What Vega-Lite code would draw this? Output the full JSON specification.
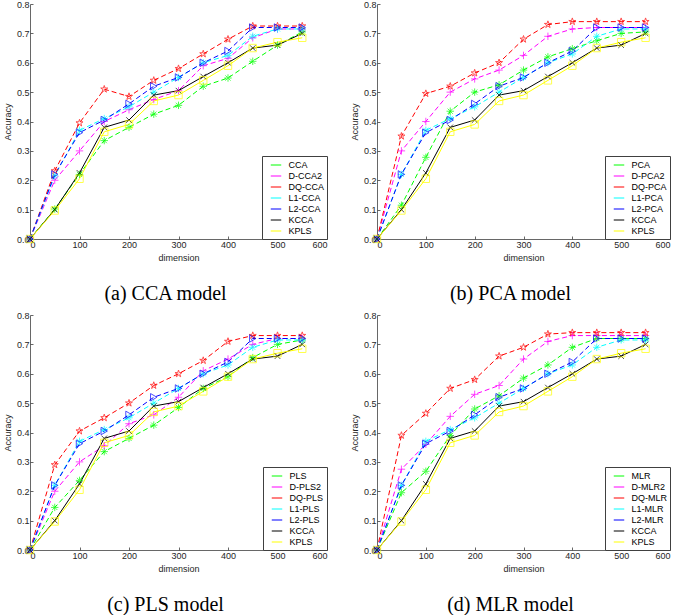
{
"$schema": "https://vega.github.io/schema/vega-lite/v6.json",
"padding": {"left": 3, "top": 0, "right": 0, "bottom": 0},
"config": {
  "font": "Liberation Sans",
  "view": {"stroke": null},
  "axis": {"domainColor": "#404040", "tickColor": "#404040", "labelColor": "#262626", "titleColor": "#262626", "labelFontSize": 9, "titleFontSize": 9, "titleFontWeight": "normal", "grid": false, "tickSize": -3, "labelPadding": 4, "domainWidth": 0.8, "tickWidth": 0.8},
  "legend": {"orient": "bottom-right", "offset": 0, "strokeColor": "#404040", "fillColor": "white", "padding": 3, "labelFontSize": 9, "symbolSize": 110, "symbolOffset": 5, "labelOffset": 6.5, "symbolStrokeWidth": 1, "rowPadding": 0, "labelColor": "black", "symbolType": "stroke"},
  "title": {"font": "Liberation Serif", "fontSize": 20, "fontWeight": "normal", "color": "black", "orient": "bottom", "anchor": "middle", "frame": "bounds", "offset": 22},
  "line": {"strokeWidth": 1},
  "point": {"filled": false, "strokeWidth": 1, "size": 55}
},
"datasets": {"rows": [
{"p":"a","m":"CCA","d":0,"a":0},{"p":"a","m":"CCA","d":50,"a":0.102},{"p":"a","m":"CCA","d":100,"a":0.22},{"p":"a","m":"CCA","d":150,"a":0.335},{"p":"a","m":"CCA","d":200,"a":0.38},{"p":"a","m":"CCA","d":250,"a":0.425},{"p":"a","m":"CCA","d":300,"a":0.455},{"p":"a","m":"CCA","d":350,"a":0.52},{"p":"a","m":"CCA","d":400,"a":0.548},{"p":"a","m":"CCA","d":450,"a":0.605},{"p":"a","m":"CCA","d":500,"a":0.66},{"p":"a","m":"CCA","d":550,"a":0.705},
{"p":"a","m":"D-CCA2","d":0,"a":0},{"p":"a","m":"D-CCA2","d":50,"a":0.2},{"p":"a","m":"D-CCA2","d":100,"a":0.3},{"p":"a","m":"D-CCA2","d":150,"a":0.4},{"p":"a","m":"D-CCA2","d":200,"a":0.44},{"p":"a","m":"D-CCA2","d":250,"a":0.475},{"p":"a","m":"D-CCA2","d":300,"a":0.505},{"p":"a","m":"D-CCA2","d":350,"a":0.59},{"p":"a","m":"D-CCA2","d":400,"a":0.615},{"p":"a","m":"D-CCA2","d":450,"a":0.685},{"p":"a","m":"D-CCA2","d":500,"a":0.715},{"p":"a","m":"D-CCA2","d":550,"a":0.715},
{"p":"a","m":"DQ-CCA","d":0,"a":0},{"p":"a","m":"DQ-CCA","d":50,"a":0.232},{"p":"a","m":"DQ-CCA","d":100,"a":0.395},{"p":"a","m":"DQ-CCA","d":150,"a":0.51},{"p":"a","m":"DQ-CCA","d":200,"a":0.485},{"p":"a","m":"DQ-CCA","d":250,"a":0.54},{"p":"a","m":"DQ-CCA","d":300,"a":0.58},{"p":"a","m":"DQ-CCA","d":350,"a":0.63},{"p":"a","m":"DQ-CCA","d":400,"a":0.68},{"p":"a","m":"DQ-CCA","d":450,"a":0.725},{"p":"a","m":"DQ-CCA","d":500,"a":0.725},{"p":"a","m":"DQ-CCA","d":550,"a":0.725},
{"p":"a","m":"L1-CCA","d":0,"a":0},{"p":"a","m":"L1-CCA","d":50,"a":0.215},{"p":"a","m":"L1-CCA","d":100,"a":0.37},{"p":"a","m":"L1-CCA","d":150,"a":0.41},{"p":"a","m":"L1-CCA","d":200,"a":0.45},{"p":"a","m":"L1-CCA","d":250,"a":0.5},{"p":"a","m":"L1-CCA","d":300,"a":0.55},{"p":"a","m":"L1-CCA","d":350,"a":0.6},{"p":"a","m":"L1-CCA","d":400,"a":0.625},{"p":"a","m":"L1-CCA","d":450,"a":0.69},{"p":"a","m":"L1-CCA","d":500,"a":0.715},{"p":"a","m":"L1-CCA","d":550,"a":0.715},
{"p":"a","m":"L2-CCA","d":0,"a":0},{"p":"a","m":"L2-CCA","d":50,"a":0.22},{"p":"a","m":"L2-CCA","d":100,"a":0.362},{"p":"a","m":"L2-CCA","d":150,"a":0.405},{"p":"a","m":"L2-CCA","d":200,"a":0.46},{"p":"a","m":"L2-CCA","d":250,"a":0.52},{"p":"a","m":"L2-CCA","d":300,"a":0.55},{"p":"a","m":"L2-CCA","d":350,"a":0.6},{"p":"a","m":"L2-CCA","d":400,"a":0.64},{"p":"a","m":"L2-CCA","d":450,"a":0.72},{"p":"a","m":"L2-CCA","d":500,"a":0.72},{"p":"a","m":"L2-CCA","d":550,"a":0.72},
{"p":"b","m":"PCA","d":0,"a":0},{"p":"b","m":"PCA","d":50,"a":0.115},{"p":"b","m":"PCA","d":100,"a":0.278},{"p":"b","m":"PCA","d":150,"a":0.435},{"p":"b","m":"PCA","d":200,"a":0.5},{"p":"b","m":"PCA","d":250,"a":0.525},{"p":"b","m":"PCA","d":300,"a":0.575},{"p":"b","m":"PCA","d":350,"a":0.62},{"p":"b","m":"PCA","d":400,"a":0.648},{"p":"b","m":"PCA","d":450,"a":0.675},{"p":"b","m":"PCA","d":500,"a":0.7},{"p":"b","m":"PCA","d":550,"a":0.705},
{"p":"b","m":"D-PCA2","d":0,"a":0},{"p":"b","m":"D-PCA2","d":50,"a":0.3},{"p":"b","m":"D-PCA2","d":100,"a":0.4},{"p":"b","m":"D-PCA2","d":150,"a":0.5},{"p":"b","m":"D-PCA2","d":200,"a":0.545},{"p":"b","m":"D-PCA2","d":250,"a":0.575},{"p":"b","m":"D-PCA2","d":300,"a":0.625},{"p":"b","m":"D-PCA2","d":350,"a":0.69},{"p":"b","m":"D-PCA2","d":400,"a":0.715},{"p":"b","m":"D-PCA2","d":450,"a":0.72},{"p":"b","m":"D-PCA2","d":500,"a":0.72},{"p":"b","m":"D-PCA2","d":550,"a":0.72},
{"p":"b","m":"DQ-PCA","d":0,"a":0},{"p":"b","m":"DQ-PCA","d":50,"a":0.35},{"p":"b","m":"DQ-PCA","d":100,"a":0.495},{"p":"b","m":"DQ-PCA","d":150,"a":0.52},{"p":"b","m":"DQ-PCA","d":200,"a":0.565},{"p":"b","m":"DQ-PCA","d":250,"a":0.6},{"p":"b","m":"DQ-PCA","d":300,"a":0.68},{"p":"b","m":"DQ-PCA","d":350,"a":0.73},{"p":"b","m":"DQ-PCA","d":400,"a":0.74},{"p":"b","m":"DQ-PCA","d":450,"a":0.74},{"p":"b","m":"DQ-PCA","d":500,"a":0.74},{"p":"b","m":"DQ-PCA","d":550,"a":0.74},
{"p":"b","m":"L1-PCA","d":0,"a":0},{"p":"b","m":"L1-PCA","d":50,"a":0.22},{"p":"b","m":"L1-PCA","d":100,"a":0.37},{"p":"b","m":"L1-PCA","d":150,"a":0.41},{"p":"b","m":"L1-PCA","d":200,"a":0.45},{"p":"b","m":"L1-PCA","d":250,"a":0.5},{"p":"b","m":"L1-PCA","d":300,"a":0.55},{"p":"b","m":"L1-PCA","d":350,"a":0.6},{"p":"b","m":"L1-PCA","d":400,"a":0.63},{"p":"b","m":"L1-PCA","d":450,"a":0.69},{"p":"b","m":"L1-PCA","d":500,"a":0.715},{"p":"b","m":"L1-PCA","d":550,"a":0.715},
{"p":"b","m":"L2-PCA","d":0,"a":0},{"p":"b","m":"L2-PCA","d":50,"a":0.22},{"p":"b","m":"L2-PCA","d":100,"a":0.362},{"p":"b","m":"L2-PCA","d":150,"a":0.405},{"p":"b","m":"L2-PCA","d":200,"a":0.46},{"p":"b","m":"L2-PCA","d":250,"a":0.52},{"p":"b","m":"L2-PCA","d":300,"a":0.55},{"p":"b","m":"L2-PCA","d":350,"a":0.6},{"p":"b","m":"L2-PCA","d":400,"a":0.64},{"p":"b","m":"L2-PCA","d":450,"a":0.72},{"p":"b","m":"L2-PCA","d":500,"a":0.72},{"p":"b","m":"L2-PCA","d":550,"a":0.72},
{"p":"c","m":"PLS","d":0,"a":0},{"p":"c","m":"PLS","d":50,"a":0.145},{"p":"c","m":"PLS","d":100,"a":0.237},{"p":"c","m":"PLS","d":150,"a":0.335},{"p":"c","m":"PLS","d":200,"a":0.38},{"p":"c","m":"PLS","d":250,"a":0.425},{"p":"c","m":"PLS","d":300,"a":0.485},{"p":"c","m":"PLS","d":350,"a":0.55},{"p":"c","m":"PLS","d":400,"a":0.59},{"p":"c","m":"PLS","d":450,"a":0.655},{"p":"c","m":"PLS","d":500,"a":0.7},{"p":"c","m":"PLS","d":550,"a":0.715},
{"p":"c","m":"D-PLS2","d":0,"a":0},{"p":"c","m":"D-PLS2","d":50,"a":0.2},{"p":"c","m":"D-PLS2","d":100,"a":0.3},{"p":"c","m":"D-PLS2","d":150,"a":0.355},{"p":"c","m":"D-PLS2","d":200,"a":0.43},{"p":"c","m":"D-PLS2","d":250,"a":0.46},{"p":"c","m":"D-PLS2","d":300,"a":0.52},{"p":"c","m":"D-PLS2","d":350,"a":0.61},{"p":"c","m":"D-PLS2","d":400,"a":0.65},{"p":"c","m":"D-PLS2","d":450,"a":0.7},{"p":"c","m":"D-PLS2","d":500,"a":0.72},{"p":"c","m":"D-PLS2","d":550,"a":0.72},
{"p":"c","m":"DQ-PLS","d":0,"a":0},{"p":"c","m":"DQ-PLS","d":50,"a":0.29},{"p":"c","m":"DQ-PLS","d":100,"a":0.405},{"p":"c","m":"DQ-PLS","d":150,"a":0.45},{"p":"c","m":"DQ-PLS","d":200,"a":0.5},{"p":"c","m":"DQ-PLS","d":250,"a":0.56},{"p":"c","m":"DQ-PLS","d":300,"a":0.6},{"p":"c","m":"DQ-PLS","d":350,"a":0.645},{"p":"c","m":"DQ-PLS","d":400,"a":0.71},{"p":"c","m":"DQ-PLS","d":450,"a":0.73},{"p":"c","m":"DQ-PLS","d":500,"a":0.73},{"p":"c","m":"DQ-PLS","d":550,"a":0.73},
{"p":"c","m":"L1-PLS","d":0,"a":0},{"p":"c","m":"L1-PLS","d":50,"a":0.22},{"p":"c","m":"L1-PLS","d":100,"a":0.37},{"p":"c","m":"L1-PLS","d":150,"a":0.41},{"p":"c","m":"L1-PLS","d":200,"a":0.45},{"p":"c","m":"L1-PLS","d":250,"a":0.5},{"p":"c","m":"L1-PLS","d":300,"a":0.55},{"p":"c","m":"L1-PLS","d":350,"a":0.6},{"p":"c","m":"L1-PLS","d":400,"a":0.63},{"p":"c","m":"L1-PLS","d":450,"a":0.69},{"p":"c","m":"L1-PLS","d":500,"a":0.715},{"p":"c","m":"L1-PLS","d":550,"a":0.715},
{"p":"c","m":"L2-PLS","d":0,"a":0},{"p":"c","m":"L2-PLS","d":50,"a":0.22},{"p":"c","m":"L2-PLS","d":100,"a":0.362},{"p":"c","m":"L2-PLS","d":150,"a":0.405},{"p":"c","m":"L2-PLS","d":200,"a":0.46},{"p":"c","m":"L2-PLS","d":250,"a":0.52},{"p":"c","m":"L2-PLS","d":300,"a":0.55},{"p":"c","m":"L2-PLS","d":350,"a":0.6},{"p":"c","m":"L2-PLS","d":400,"a":0.64},{"p":"c","m":"L2-PLS","d":450,"a":0.72},{"p":"c","m":"L2-PLS","d":500,"a":0.72},{"p":"c","m":"L2-PLS","d":550,"a":0.72},
{"p":"d","m":"MLR","d":0,"a":0},{"p":"d","m":"MLR","d":50,"a":0.195},{"p":"d","m":"MLR","d":100,"a":0.268},{"p":"d","m":"MLR","d":150,"a":0.39},{"p":"d","m":"MLR","d":200,"a":0.48},{"p":"d","m":"MLR","d":250,"a":0.525},{"p":"d","m":"MLR","d":300,"a":0.585},{"p":"d","m":"MLR","d":350,"a":0.63},{"p":"d","m":"MLR","d":400,"a":0.69},{"p":"d","m":"MLR","d":450,"a":0.72},{"p":"d","m":"MLR","d":500,"a":0.72},{"p":"d","m":"MLR","d":550,"a":0.72},
{"p":"d","m":"D-MLR2","d":0,"a":0},{"p":"d","m":"D-MLR2","d":50,"a":0.275},{"p":"d","m":"D-MLR2","d":100,"a":0.36},{"p":"d","m":"D-MLR2","d":150,"a":0.455},{"p":"d","m":"D-MLR2","d":200,"a":0.53},{"p":"d","m":"D-MLR2","d":250,"a":0.56},{"p":"d","m":"D-MLR2","d":300,"a":0.65},{"p":"d","m":"D-MLR2","d":350,"a":0.71},{"p":"d","m":"D-MLR2","d":400,"a":0.73},{"p":"d","m":"D-MLR2","d":450,"a":0.73},{"p":"d","m":"D-MLR2","d":500,"a":0.73},{"p":"d","m":"D-MLR2","d":550,"a":0.73},
{"p":"d","m":"DQ-MLR","d":0,"a":0},{"p":"d","m":"DQ-MLR","d":50,"a":0.39},{"p":"d","m":"DQ-MLR","d":100,"a":0.465},{"p":"d","m":"DQ-MLR","d":150,"a":0.55},{"p":"d","m":"DQ-MLR","d":200,"a":0.58},{"p":"d","m":"DQ-MLR","d":250,"a":0.66},{"p":"d","m":"DQ-MLR","d":300,"a":0.69},{"p":"d","m":"DQ-MLR","d":350,"a":0.735},{"p":"d","m":"DQ-MLR","d":400,"a":0.74},{"p":"d","m":"DQ-MLR","d":450,"a":0.74},{"p":"d","m":"DQ-MLR","d":500,"a":0.74},{"p":"d","m":"DQ-MLR","d":550,"a":0.74},
{"p":"d","m":"L1-MLR","d":0,"a":0},{"p":"d","m":"L1-MLR","d":50,"a":0.22},{"p":"d","m":"L1-MLR","d":100,"a":0.37},{"p":"d","m":"L1-MLR","d":150,"a":0.41},{"p":"d","m":"L1-MLR","d":200,"a":0.45},{"p":"d","m":"L1-MLR","d":250,"a":0.5},{"p":"d","m":"L1-MLR","d":300,"a":0.55},{"p":"d","m":"L1-MLR","d":350,"a":0.6},{"p":"d","m":"L1-MLR","d":400,"a":0.63},{"p":"d","m":"L1-MLR","d":450,"a":0.69},{"p":"d","m":"L1-MLR","d":500,"a":0.715},{"p":"d","m":"L1-MLR","d":550,"a":0.715},
{"p":"d","m":"L2-MLR","d":0,"a":0},{"p":"d","m":"L2-MLR","d":50,"a":0.22},{"p":"d","m":"L2-MLR","d":100,"a":0.362},{"p":"d","m":"L2-MLR","d":150,"a":0.405},{"p":"d","m":"L2-MLR","d":200,"a":0.46},{"p":"d","m":"L2-MLR","d":250,"a":0.52},{"p":"d","m":"L2-MLR","d":300,"a":0.55},{"p":"d","m":"L2-MLR","d":350,"a":0.6},{"p":"d","m":"L2-MLR","d":400,"a":0.64},{"p":"d","m":"L2-MLR","d":450,"a":0.72},{"p":"d","m":"L2-MLR","d":500,"a":0.72},{"p":"d","m":"L2-MLR","d":550,"a":0.72},
{"p":"k","m":"KCCA","d":0,"a":0},{"p":"k","m":"KCCA","d":50,"a":0.1},{"p":"k","m":"KCCA","d":100,"a":0.225},{"p":"k","m":"KCCA","d":150,"a":0.38},{"p":"k","m":"KCCA","d":200,"a":0.405},{"p":"k","m":"KCCA","d":250,"a":0.49},{"p":"k","m":"KCCA","d":300,"a":0.505},{"p":"k","m":"KCCA","d":350,"a":0.553},{"p":"k","m":"KCCA","d":400,"a":0.6},{"p":"k","m":"KCCA","d":450,"a":0.65},{"p":"k","m":"KCCA","d":500,"a":0.66},{"p":"k","m":"KCCA","d":550,"a":0.7},
{"p":"k","m":"KPLS","d":0,"a":0},{"p":"k","m":"KPLS","d":50,"a":0.097},{"p":"k","m":"KPLS","d":100,"a":0.205},{"p":"k","m":"KPLS","d":150,"a":0.365},{"p":"k","m":"KPLS","d":200,"a":0.39},{"p":"k","m":"KPLS","d":250,"a":0.47},{"p":"k","m":"KPLS","d":300,"a":0.49},{"p":"k","m":"KPLS","d":350,"a":0.54},{"p":"k","m":"KPLS","d":400,"a":0.59},{"p":"k","m":"KPLS","d":450,"a":0.65},{"p":"k","m":"KPLS","d":500,"a":0.67},{"p":"k","m":"KPLS","d":550,"a":0.685}
]},
"spacing": 7,
"resolve": {"scale": {"color": "independent", "stroke": "independent", "shape": "independent"}},
"vconcat": [
{"spacing": 22, "resolve": {"scale": {"color": "independent", "stroke": "independent", "shape": "independent"}},
 "hconcat": [
 {"width": 297, "height": 235, "title": "(a)  CCA model", "data": {"name": "rows"}, "transform": [{"filter": "datum.p=='a'||datum.p=='k'"}],
  "encoding": {
   "x": {"field": "d", "type": "quantitative", "scale": {"domain": [0, 600], "nice": false}, "axis": {"values": [0,100,200,300,400,500,600], "title": "dimension"}},
   "y": {"field": "a", "type": "quantitative", "scale": {"domain": [0, 0.8], "nice": false}, "axis": {"values": [0,0.1,0.2,0.3,0.4,0.5,0.6,0.7,0.8], "title": "Accuracy"}},
   "color": {"field": "m", "type": "nominal", "scale": {"domain": ["CCA","D-CCA2","DQ-CCA","L1-CCA","L2-CCA","KCCA","KPLS"], "range": ["#00ff00","#ff00ff","#ff0000","#00ffff","#0000ff","#000000","#ffff00"]},
     "legend": {"title": null, "encode": {"symbols": {"strokeDash": {"value": [1, 0]}, "shape": {"value": {"expr": "['M-1.9,0L-1.3,0M-0.9,0L0.9,0M1.3,0L1.9,0M0,-0.85L0,0.85M-0.6,-0.6L0.6,0.6M-0.6,0.6L0.6,-0.6','M-1.9,0L-1.3,0M-0.9,0L0.9,0M1.3,0L1.9,0M0,-0.85L0,0.85','M-1.9,0L-1.3,0M-0.9,0L0.9,0M1.3,0L1.9,0M0,-0.85L0.19,-0.261L0.808,-0.263L0.307,0.099L0.5,0.688L0,0.323L-0.5,0.688L-0.307,0.099L-0.808,-0.263L-0.19,-0.261Z','M-1.9,0L-1.3,0M-0.9,0L0.9,0M1.3,0L1.9,0M0,-0.85L0,0.85M-0.6,-0.6L0.6,0.6M-0.6,0.6L0.6,-0.6','M-1.9,0L-1.3,0M-0.9,0L0.9,0M1.3,0L1.9,0M-0.65,-0.8L0.8,0L-0.65,0.8Z','M-1.9,0L1.9,0M-0.65,-0.65L0.65,0.65M-0.65,0.65L0.65,-0.65','M-1.9,0L1.9,0M-0.65,-0.65L0.65,-0.65L0.65,0.65L-0.65,0.65Z'][indexof(['CCA','D-CCA2','DQ-CCA','L1-CCA','L2-CCA','KCCA','KPLS'], datum.value)]"}}}}}}
  },
  "layer": [
   {"transform": [{"filter": "datum.p!='k'"}], "mark": {"type": "line", "strokeDash": [5, 3]}},
   {"transform": [{"filter": "datum.p=='k'"}], "mark": {"type": "line"}},
   {"mark": {"type": "point"}, "encoding": {
     "color": null,
     "stroke": {"field": "m", "type": "nominal", "scale": {"domain": ["KPLS","KCCA","L2-CCA","L1-CCA","DQ-CCA","D-CCA2","CCA"], "range": ["#ffff00","#000000","#0000ff","#00ffff","#ff0000","#ff00ff","#00ff00"]}, "legend": null},
     "shape": {"field": "m", "type": "nominal", "scale": {"domain": ["KPLS","KCCA","L2-CCA","L1-CCA","DQ-CCA","D-CCA2","CCA"], "range": ["square","M-0.75,-0.75L0.75,0.75M-0.75,0.75L0.75,-0.75","triangle-right","M-1,0L1,0M0,-1L0,1M-0.7,-0.7L0.7,0.7M-0.7,0.7L0.7,-0.7","M0,-1L0.223,-0.307L0.951,-0.309L0.361,0.117L0.588,0.809L0,0.38L-0.588,0.809L-0.361,0.117L-0.951,-0.309L-0.223,-0.307Z","M-1,0L1,0M0,-1L0,1","M-1,0L1,0M0,-1L0,1M-0.7,-0.7L0.7,0.7M-0.7,0.7L0.7,-0.7"]}, "legend": null}}}
  ]},
 {"width": 293, "height": 235, "title": "(b)  PCA model", "data": {"name": "rows"}, "transform": [{"filter": "datum.p=='b'||datum.p=='k'"}],
  "encoding": {
   "x": {"field": "d", "type": "quantitative", "scale": {"domain": [0, 600], "nice": false}, "axis": {"values": [0,100,200,300,400,500,600], "title": "dimension"}},
   "y": {"field": "a", "type": "quantitative", "scale": {"domain": [0, 0.8], "nice": false}, "axis": {"values": [0,0.1,0.2,0.3,0.4,0.5,0.6,0.7,0.8], "title": "Accuracy"}},
   "color": {"field": "m", "type": "nominal", "scale": {"domain": ["PCA","D-PCA2","DQ-PCA","L1-PCA","L2-PCA","KCCA","KPLS"], "range": ["#00ff00","#ff00ff","#ff0000","#00ffff","#0000ff","#000000","#ffff00"]},
     "legend": {"title": null, "encode": {"symbols": {"strokeDash": {"value": [1, 0]}, "shape": {"value": {"expr": "['M-1.9,0L-1.3,0M-0.9,0L0.9,0M1.3,0L1.9,0M0,-0.85L0,0.85M-0.6,-0.6L0.6,0.6M-0.6,0.6L0.6,-0.6','M-1.9,0L-1.3,0M-0.9,0L0.9,0M1.3,0L1.9,0M0,-0.85L0,0.85','M-1.9,0L-1.3,0M-0.9,0L0.9,0M1.3,0L1.9,0M0,-0.85L0.19,-0.261L0.808,-0.263L0.307,0.099L0.5,0.688L0,0.323L-0.5,0.688L-0.307,0.099L-0.808,-0.263L-0.19,-0.261Z','M-1.9,0L-1.3,0M-0.9,0L0.9,0M1.3,0L1.9,0M0,-0.85L0,0.85M-0.6,-0.6L0.6,0.6M-0.6,0.6L0.6,-0.6','M-1.9,0L-1.3,0M-0.9,0L0.9,0M1.3,0L1.9,0M-0.65,-0.8L0.8,0L-0.65,0.8Z','M-1.9,0L1.9,0M-0.65,-0.65L0.65,0.65M-0.65,0.65L0.65,-0.65','M-1.9,0L1.9,0M-0.65,-0.65L0.65,-0.65L0.65,0.65L-0.65,0.65Z'][indexof(['PCA','D-PCA2','DQ-PCA','L1-PCA','L2-PCA','KCCA','KPLS'], datum.value)]"}}}}}}
  },
  "layer": [
   {"transform": [{"filter": "datum.p!='k'"}], "mark": {"type": "line", "strokeDash": [5, 3]}},
   {"transform": [{"filter": "datum.p=='k'"}], "mark": {"type": "line"}},
   {"mark": {"type": "point"}, "encoding": {
     "color": null,
     "stroke": {"field": "m", "type": "nominal", "scale": {"domain": ["KPLS","KCCA","L2-PCA","L1-PCA","DQ-PCA","D-PCA2","PCA"], "range": ["#ffff00","#000000","#0000ff","#00ffff","#ff0000","#ff00ff","#00ff00"]}, "legend": null},
     "shape": {"field": "m", "type": "nominal", "scale": {"domain": ["KPLS","KCCA","L2-PCA","L1-PCA","DQ-PCA","D-PCA2","PCA"], "range": ["square","M-0.75,-0.75L0.75,0.75M-0.75,0.75L0.75,-0.75","triangle-right","M-1,0L1,0M0,-1L0,1M-0.7,-0.7L0.7,0.7M-0.7,0.7L0.7,-0.7","M0,-1L0.223,-0.307L0.951,-0.309L0.361,0.117L0.588,0.809L0,0.38L-0.588,0.809L-0.361,0.117L-0.951,-0.309L-0.223,-0.307Z","M-1,0L1,0M0,-1L0,1","M-1,0L1,0M0,-1L0,1M-0.7,-0.7L0.7,0.7M-0.7,0.7L0.7,-0.7"]}, "legend": null}}}
  ]}
 ]},
{"spacing": 22, "resolve": {"scale": {"color": "independent", "stroke": "independent", "shape": "independent"}},
 "hconcat": [
 {"width": 297, "height": 235, "title": "(c)  PLS model", "data": {"name": "rows"}, "transform": [{"filter": "datum.p=='c'||datum.p=='k'"}],
  "encoding": {
   "x": {"field": "d", "type": "quantitative", "scale": {"domain": [0, 600], "nice": false}, "axis": {"values": [0,100,200,300,400,500,600], "title": "dimension"}},
   "y": {"field": "a", "type": "quantitative", "scale": {"domain": [0, 0.8], "nice": false}, "axis": {"values": [0,0.1,0.2,0.3,0.4,0.5,0.6,0.7,0.8], "title": "Accuracy"}},
   "color": {"field": "m", "type": "nominal", "scale": {"domain": ["PLS","D-PLS2","DQ-PLS","L1-PLS","L2-PLS","KCCA","KPLS"], "range": ["#00ff00","#ff00ff","#ff0000","#00ffff","#0000ff","#000000","#ffff00"]},
     "legend": {"title": null, "encode": {"symbols": {"strokeDash": {"value": [1, 0]}, "shape": {"value": {"expr": "['M-1.9,0L-1.3,0M-0.9,0L0.9,0M1.3,0L1.9,0M0,-0.85L0,0.85M-0.6,-0.6L0.6,0.6M-0.6,0.6L0.6,-0.6','M-1.9,0L-1.3,0M-0.9,0L0.9,0M1.3,0L1.9,0M0,-0.85L0,0.85','M-1.9,0L-1.3,0M-0.9,0L0.9,0M1.3,0L1.9,0M0,-0.85L0.19,-0.261L0.808,-0.263L0.307,0.099L0.5,0.688L0,0.323L-0.5,0.688L-0.307,0.099L-0.808,-0.263L-0.19,-0.261Z','M-1.9,0L-1.3,0M-0.9,0L0.9,0M1.3,0L1.9,0M0,-0.85L0,0.85M-0.6,-0.6L0.6,0.6M-0.6,0.6L0.6,-0.6','M-1.9,0L-1.3,0M-0.9,0L0.9,0M1.3,0L1.9,0M-0.65,-0.8L0.8,0L-0.65,0.8Z','M-1.9,0L1.9,0M-0.65,-0.65L0.65,0.65M-0.65,0.65L0.65,-0.65','M-1.9,0L1.9,0M-0.65,-0.65L0.65,-0.65L0.65,0.65L-0.65,0.65Z'][indexof(['PLS','D-PLS2','DQ-PLS','L1-PLS','L2-PLS','KCCA','KPLS'], datum.value)]"}}}}}}
  },
  "layer": [
   {"transform": [{"filter": "datum.p!='k'"}], "mark": {"type": "line", "strokeDash": [5, 3]}},
   {"transform": [{"filter": "datum.p=='k'"}], "mark": {"type": "line"}},
   {"mark": {"type": "point"}, "encoding": {
     "color": null,
     "stroke": {"field": "m", "type": "nominal", "scale": {"domain": ["KPLS","KCCA","L2-PLS","L1-PLS","DQ-PLS","D-PLS2","PLS"], "range": ["#ffff00","#000000","#0000ff","#00ffff","#ff0000","#ff00ff","#00ff00"]}, "legend": null},
     "shape": {"field": "m", "type": "nominal", "scale": {"domain": ["KPLS","KCCA","L2-PLS","L1-PLS","DQ-PLS","D-PLS2","PLS"], "range": ["square","M-0.75,-0.75L0.75,0.75M-0.75,0.75L0.75,-0.75","triangle-right","M-1,0L1,0M0,-1L0,1M-0.7,-0.7L0.7,0.7M-0.7,0.7L0.7,-0.7","M0,-1L0.223,-0.307L0.951,-0.309L0.361,0.117L0.588,0.809L0,0.38L-0.588,0.809L-0.361,0.117L-0.951,-0.309L-0.223,-0.307Z","M-1,0L1,0M0,-1L0,1","M-1,0L1,0M0,-1L0,1M-0.7,-0.7L0.7,0.7M-0.7,0.7L0.7,-0.7"]}, "legend": null}}}
  ]},
 {"width": 293, "height": 235, "title": "(d)  MLR model", "data": {"name": "rows"}, "transform": [{"filter": "datum.p=='d'||datum.p=='k'"}],
  "encoding": {
   "x": {"field": "d", "type": "quantitative", "scale": {"domain": [0, 600], "nice": false}, "axis": {"values": [0,100,200,300,400,500,600], "title": "dimension"}},
   "y": {"field": "a", "type": "quantitative", "scale": {"domain": [0, 0.8], "nice": false}, "axis": {"values": [0,0.1,0.2,0.3,0.4,0.5,0.6,0.7,0.8], "title": "Accuracy"}},
   "color": {"field": "m", "type": "nominal", "scale": {"domain": ["MLR","D-MLR2","DQ-MLR","L1-MLR","L2-MLR","KCCA","KPLS"], "range": ["#00ff00","#ff00ff","#ff0000","#00ffff","#0000ff","#000000","#ffff00"]},
     "legend": {"title": null, "encode": {"symbols": {"strokeDash": {"value": [1, 0]}, "shape": {"value": {"expr": "['M-1.9,0L-1.3,0M-0.9,0L0.9,0M1.3,0L1.9,0M0,-0.85L0,0.85M-0.6,-0.6L0.6,0.6M-0.6,0.6L0.6,-0.6','M-1.9,0L-1.3,0M-0.9,0L0.9,0M1.3,0L1.9,0M0,-0.85L0,0.85','M-1.9,0L-1.3,0M-0.9,0L0.9,0M1.3,0L1.9,0M0,-0.85L0.19,-0.261L0.808,-0.263L0.307,0.099L0.5,0.688L0,0.323L-0.5,0.688L-0.307,0.099L-0.808,-0.263L-0.19,-0.261Z','M-1.9,0L-1.3,0M-0.9,0L0.9,0M1.3,0L1.9,0M0,-0.85L0,0.85M-0.6,-0.6L0.6,0.6M-0.6,0.6L0.6,-0.6','M-1.9,0L-1.3,0M-0.9,0L0.9,0M1.3,0L1.9,0M-0.65,-0.8L0.8,0L-0.65,0.8Z','M-1.9,0L1.9,0M-0.65,-0.65L0.65,0.65M-0.65,0.65L0.65,-0.65','M-1.9,0L1.9,0M-0.65,-0.65L0.65,-0.65L0.65,0.65L-0.65,0.65Z'][indexof(['MLR','D-MLR2','DQ-MLR','L1-MLR','L2-MLR','KCCA','KPLS'], datum.value)]"}}}}}}
  },
  "layer": [
   {"transform": [{"filter": "datum.p!='k'"}], "mark": {"type": "line", "strokeDash": [5, 3]}},
   {"transform": [{"filter": "datum.p=='k'"}], "mark": {"type": "line"}},
   {"mark": {"type": "point"}, "encoding": {
     "color": null,
     "stroke": {"field": "m", "type": "nominal", "scale": {"domain": ["KPLS","KCCA","L2-MLR","L1-MLR","DQ-MLR","D-MLR2","MLR"], "range": ["#ffff00","#000000","#0000ff","#00ffff","#ff0000","#ff00ff","#00ff00"]}, "legend": null},
     "shape": {"field": "m", "type": "nominal", "scale": {"domain": ["KPLS","KCCA","L2-MLR","L1-MLR","DQ-MLR","D-MLR2","MLR"], "range": ["square","M-0.75,-0.75L0.75,0.75M-0.75,0.75L0.75,-0.75","triangle-right","M-1,0L1,0M0,-1L0,1M-0.7,-0.7L0.7,0.7M-0.7,0.7L0.7,-0.7","M0,-1L0.223,-0.307L0.951,-0.309L0.361,0.117L0.588,0.809L0,0.38L-0.588,0.809L-0.361,0.117L-0.951,-0.309L-0.223,-0.307Z","M-1,0L1,0M0,-1L0,1","M-1,0L1,0M0,-1L0,1M-0.7,-0.7L0.7,0.7M-0.7,0.7L0.7,-0.7"]}, "legend": null}}}
  ]}
 ]}
]
}
